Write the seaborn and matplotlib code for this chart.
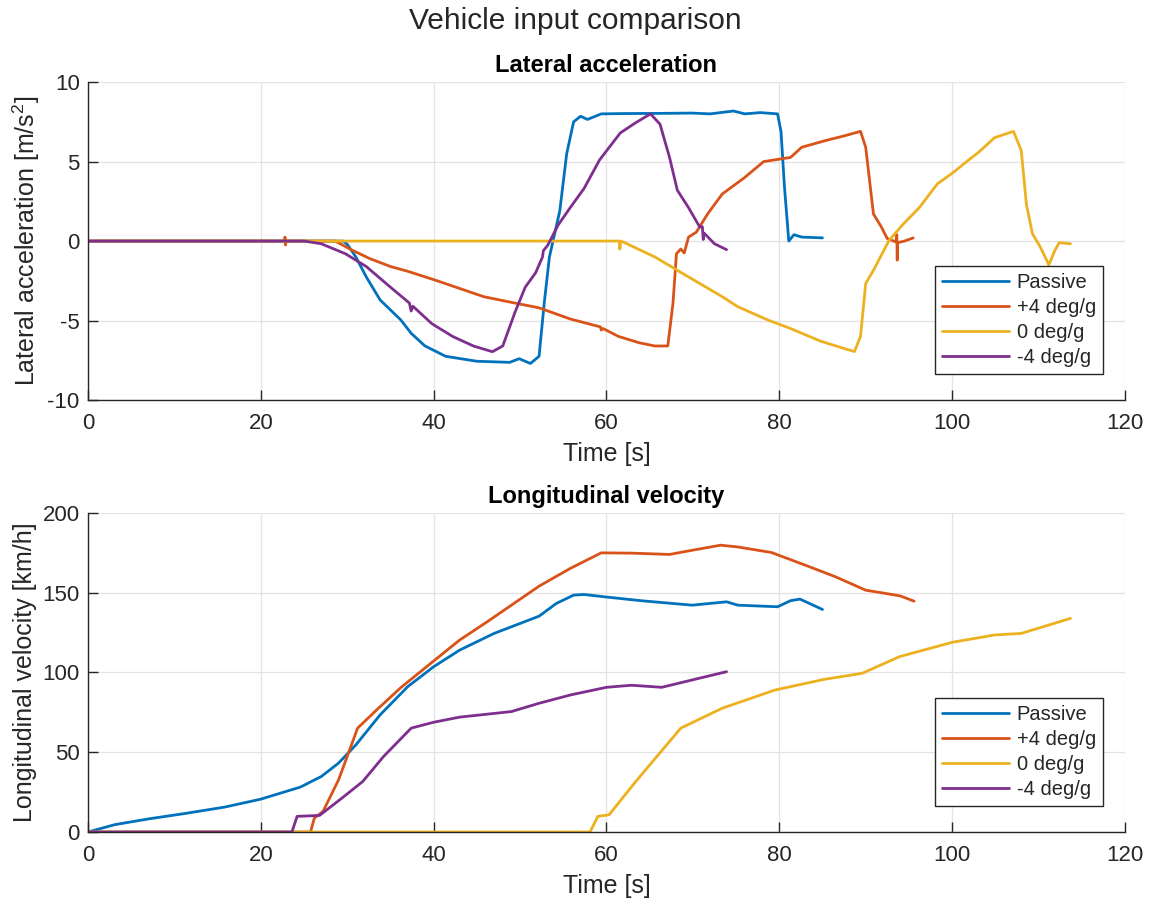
import numpy as np
import pandas as pd
import matplotlib
matplotlib.use("Agg")
import matplotlib.pyplot as plt
import seaborn as sns

# ---- series labels and colours ----
series = ["Passive", "+4 deg/g", "0 deg/g", "-4 deg/g"]
colors = ["#0072BD", "#D95319", "#EDB120", "#7E2F8E"]

# ---- lateral acceleration [m/s^2] ----
t_acc_passive = [0, 29.5, 30.0, 31.0, 32.2, 33.8, 36.2, 37.4, 39.0, 41.4, 45.0, 48.8, 49.9, 51.2,
                 52.2, 52.8, 53.4, 54.6, 55.4, 56.2, 57.0, 57.8, 59.4, 62.0, 66.0, 69.9, 72.0, 74.7,
                 76.0, 77.8, 79.8, 80.2, 80.6, 81.1, 81.7, 82.6, 85.0]
acc_passive = [0, 0, -0.2, -1.0, -2.25, -3.7, -4.96, -5.8, -6.6, -7.25, -7.56, -7.63, -7.4, -7.7,
               -7.25, -3.9, -1.0, 1.9, 5.5, 7.5, 7.85, 7.65, 8.0, 8.02, 8.03, 8.05, 8.0, 8.18,
               8.0, 8.08, 8.0, 6.9, 3.4, 0.0, 0.4, 0.25, 0.2]

t_acc_pos4 = [0, 22.75, 22.8, 22.85, 22.9, 28.6, 30.6, 32.6, 35.0, 37.0, 40.2, 43.0, 45.8, 49.4,
              52.2, 55.8, 59.3, 59.4, 59.6, 61.4, 63.8, 65.6, 67.1, 67.7, 68.1, 68.6, 69.0, 69.5,
              70.4, 71.7, 73.4, 76.0, 78.2, 81.3, 82.6, 85.2, 87.4, 89.4, 90.0, 90.9, 91.8, 92.5,
              93.5, 93.6, 93.65, 93.7, 94.5, 95.5]
acc_pos4 = [0, 0, 0.25, -0.25, 0, 0, -0.58, -1.1, -1.6, -1.9, -2.46, -2.98, -3.5, -3.9,
            -4.2, -4.9, -5.4, -5.6, -5.5, -6.0, -6.4, -6.6, -6.6, -3.9, -0.8, -0.5, -0.75, 0.25,
            0.56, 1.7, 2.96, 4.0, 5.0, 5.26, 5.9, 6.3, 6.6, 6.9, 5.9, 1.7, 0.9, 0.15,
            -0.05, 0.4, -1.2, -0.1, 0.0, 0.2]

t_acc_zero = [0, 61.5, 61.55, 61.65, 62.1, 65.6, 68.2, 70.8, 73.4, 75.2, 78.7, 81.3, 84.8, 87.4,
              88.7, 89.4, 90.0, 90.9, 92.7, 94.4, 96.2, 98.3, 100.1, 101.8, 103.1, 104.9, 107.1,
              108.0, 108.6, 109.3, 110.2, 111.2, 111.9, 112.4, 113.7]
acc_zero = [0, 0, -0.5, 0, -0.1, -1.0, -1.84, -2.67, -3.5, -4.13, -4.97, -5.5, -6.3, -6.74,
            -6.95, -6.0, -2.67, -1.84, 0.04, 1.1, 2.1, 3.6, 4.3, 5.05, 5.6, 6.5, 6.9,
            5.7, 2.3, 0.46, -0.37, -1.5, -0.58, -0.1, -0.17]

t_acc_neg4 = [0, 25.0, 27.0, 29.8, 32.2, 35.0, 37.2, 37.4, 37.6, 39.8, 42.2, 44.6, 46.8, 48.0,
              49.4, 50.6, 51.8, 52.6, 52.7, 53.2, 54.4, 55.8, 57.4, 59.2, 61.6, 63.4, 65.1, 66.2,
              67.3, 68.2, 69.5, 70.8, 71.1, 71.2, 71.3, 72.5, 73.9]
acc_neg4 = [0, 0, -0.17, -0.8, -1.6, -2.9, -3.9, -4.4, -4.1, -5.2, -6.0, -6.6, -6.96, -6.6,
            -4.5, -2.9, -2.0, -1.0, -0.6, -0.27, 1.0, 2.1, 3.3, 5.1, 6.8, 7.45, 8.0, 7.35,
            5.26, 3.2, 2.1, 0.88, 0.9, 0.1, 0.5, -0.17, -0.54]

# ---- longitudinal velocity [km/h] ----
t_vel_passive = [0, 3.1, 7.1, 11.1, 15.8, 20, 24.6, 27.0, 29.0, 31.0, 33.8, 37.0, 40, 43, 47,
                 52.2, 54.2, 56.2, 57.4, 60, 64, 69.9, 73.9, 75.2, 79.8, 81.3, 82.4, 85.0]
vel_passive = [0, 4.6, 8.3, 11.5, 15.6, 20.6, 28.2, 34.8, 43.2, 54.6, 73.4, 91.1, 103.6, 114,
               124.5, 135.3, 143.3, 148.5, 148.9, 147.3, 145, 142.2, 144.3, 142.2, 141.2, 145,
               146, 139.5]

t_vel_pos4 = [0, 25.75, 26.2, 27.2, 29.0, 31.2, 33.4, 36.2, 40, 43, 46.2, 49, 52.2, 55.8, 59.4,
              63, 67.3, 69.9, 73.2, 75.2, 79.1, 83.0, 86.5, 90.0, 91.8, 94.0, 95.6]
vel_pos4 = [0, 0, 8.8, 12.9, 32.7, 65.1, 76.5, 90.5, 107.2, 120.3, 131.8, 142.2, 154.1, 165.2,
            175, 174.8, 174, 176.6, 179.8, 178.7, 175.2, 167.3, 160, 151.6, 150, 148, 144.7]

t_vel_zero = [0, 58.1, 59.0, 60.3, 63.4, 68.6, 73.4, 79.5, 85.2, 89.6, 93.9, 100, 104.9, 108,
              113.7]
vel_zero = [0, 0, 9.8, 10.8, 31.7, 65.1, 77.6, 89, 95.7, 99.5, 109.9, 118.9, 123.5, 124.5, 133.9]

t_vel_neg4 = [0, 23.6, 24.2, 26.8, 29.4, 31.8, 34.2, 37.4, 40, 43, 49, 52.2, 55.9, 60, 62.9,
              66.4, 69.9, 73.9]
vel_neg4 = [0, 0, 9.8, 10.4, 21.3, 31.7, 47.3, 65.1, 68.8, 72, 75.5, 80.7, 86, 90.7, 92, 90.7,
            95.3, 100.5]

x_ticks = [0, 20, 40, 60, 80, 100, 120]
acc_ticks = [-10, -5, 0, 5, 10]
vel_ticks = [0, 50, 100, 150, 200]


def long_form(ts, vs, col):
    frames = [pd.DataFrame({"t": t, col: v, "run": name})
              for name, t, v in zip(series, ts, vs)]
    return pd.concat(frames, ignore_index=True)


acc_df = long_form([t_acc_passive, t_acc_pos4, t_acc_zero, t_acc_neg4],
                   [acc_passive, acc_pos4, acc_zero, acc_neg4], "acc")
vel_df = long_form([t_vel_passive, t_vel_pos4, t_vel_zero, t_vel_neg4],
                   [vel_passive, vel_pos4, vel_zero, vel_neg4], "vel")

sns.set_theme(style="white")
plt.rcParams["font.family"] = ["Liberation Sans", "DejaVu Sans"]
plt.rcParams["mathtext.fontset"] = "custom"
plt.rcParams["mathtext.rm"] = "Liberation Sans"
plt.rcParams["mathtext.it"] = "Liberation Sans"
plt.rcParams["axes.unicode_minus"] = False

fig = plt.figure(figsize=(11.5, 9.02), dpi=100)
ax1 = fig.add_axes([0.0765, 0.5565, 0.9017, 0.3525])
ax2 = fig.add_axes([0.0765, 0.0776, 0.9017, 0.3537])

palette = dict(zip(series, colors))

for ax, df, col, yticks, ylabel, title in [
    (ax1, acc_df, "acc", acc_ticks, r"Lateral acceleration [m/s$^2$]", "Lateral acceleration"),
    (ax2, vel_df, "vel", vel_ticks, "Longitudinal velocity [km/h]", "Longitudinal velocity"),
]:
    sns.lineplot(data=df, x="t", y=col, hue="run", hue_order=series, palette=palette,
                 estimator=None, sort=False, units="run", linewidth=2.0, ax=ax, legend=False)
    ax.set_xlim(0, 120)
    ax.set_ylim(yticks[0], yticks[-1])
    ax.set_xticks(x_ticks)
    ax.set_yticks(yticks)
    ax.grid(True, color="#e3e3e3", linewidth=0.9)
    ax.set_axisbelow(True)
    for s in ["top", "right"]:
        ax.spines[s].set_visible(False)
    for s in ["left", "bottom"]:
        ax.spines[s].set_color("#262626")
        ax.spines[s].set_linewidth(1.0)
    ax.tick_params(direction="in", length=7.5, width=1.0, color="#262626",
                   labelsize=16, labelcolor="#262626", bottom=True, left=True)
    ax.tick_params(axis="x", pad=9)
    ax.tick_params(axis="y", pad=6)
    ax.set_xlabel("Time [s]", fontsize=18, color="#262626", labelpad=6)
    ax.set_ylabel(ylabel, fontsize=18, color="#262626", labelpad=4)
    ax.set_title(title, fontsize=17, fontweight="bold", color="black", pad=7)
    handles = [plt.Line2D([], [], color=c, linewidth=2.0) for c in colors]
    leg = ax.legend(handles, series, loc="lower right", bbox_to_anchor=(0.979, 0.082),
                    fontsize=14.5, frameon=True, fancybox=False, framealpha=1,
                    edgecolor="#262626", handlelength=3.3, borderpad=0.35,
                    labelspacing=0.3, handletextpad=0.4, borderaxespad=0)
    leg.get_frame().set_linewidth(1.0)

fig.suptitle("Vehicle input comparison", fontsize=21.5, color="#262626", y=0.992)
fig.savefig("out.png", dpi=100, facecolor="white")
